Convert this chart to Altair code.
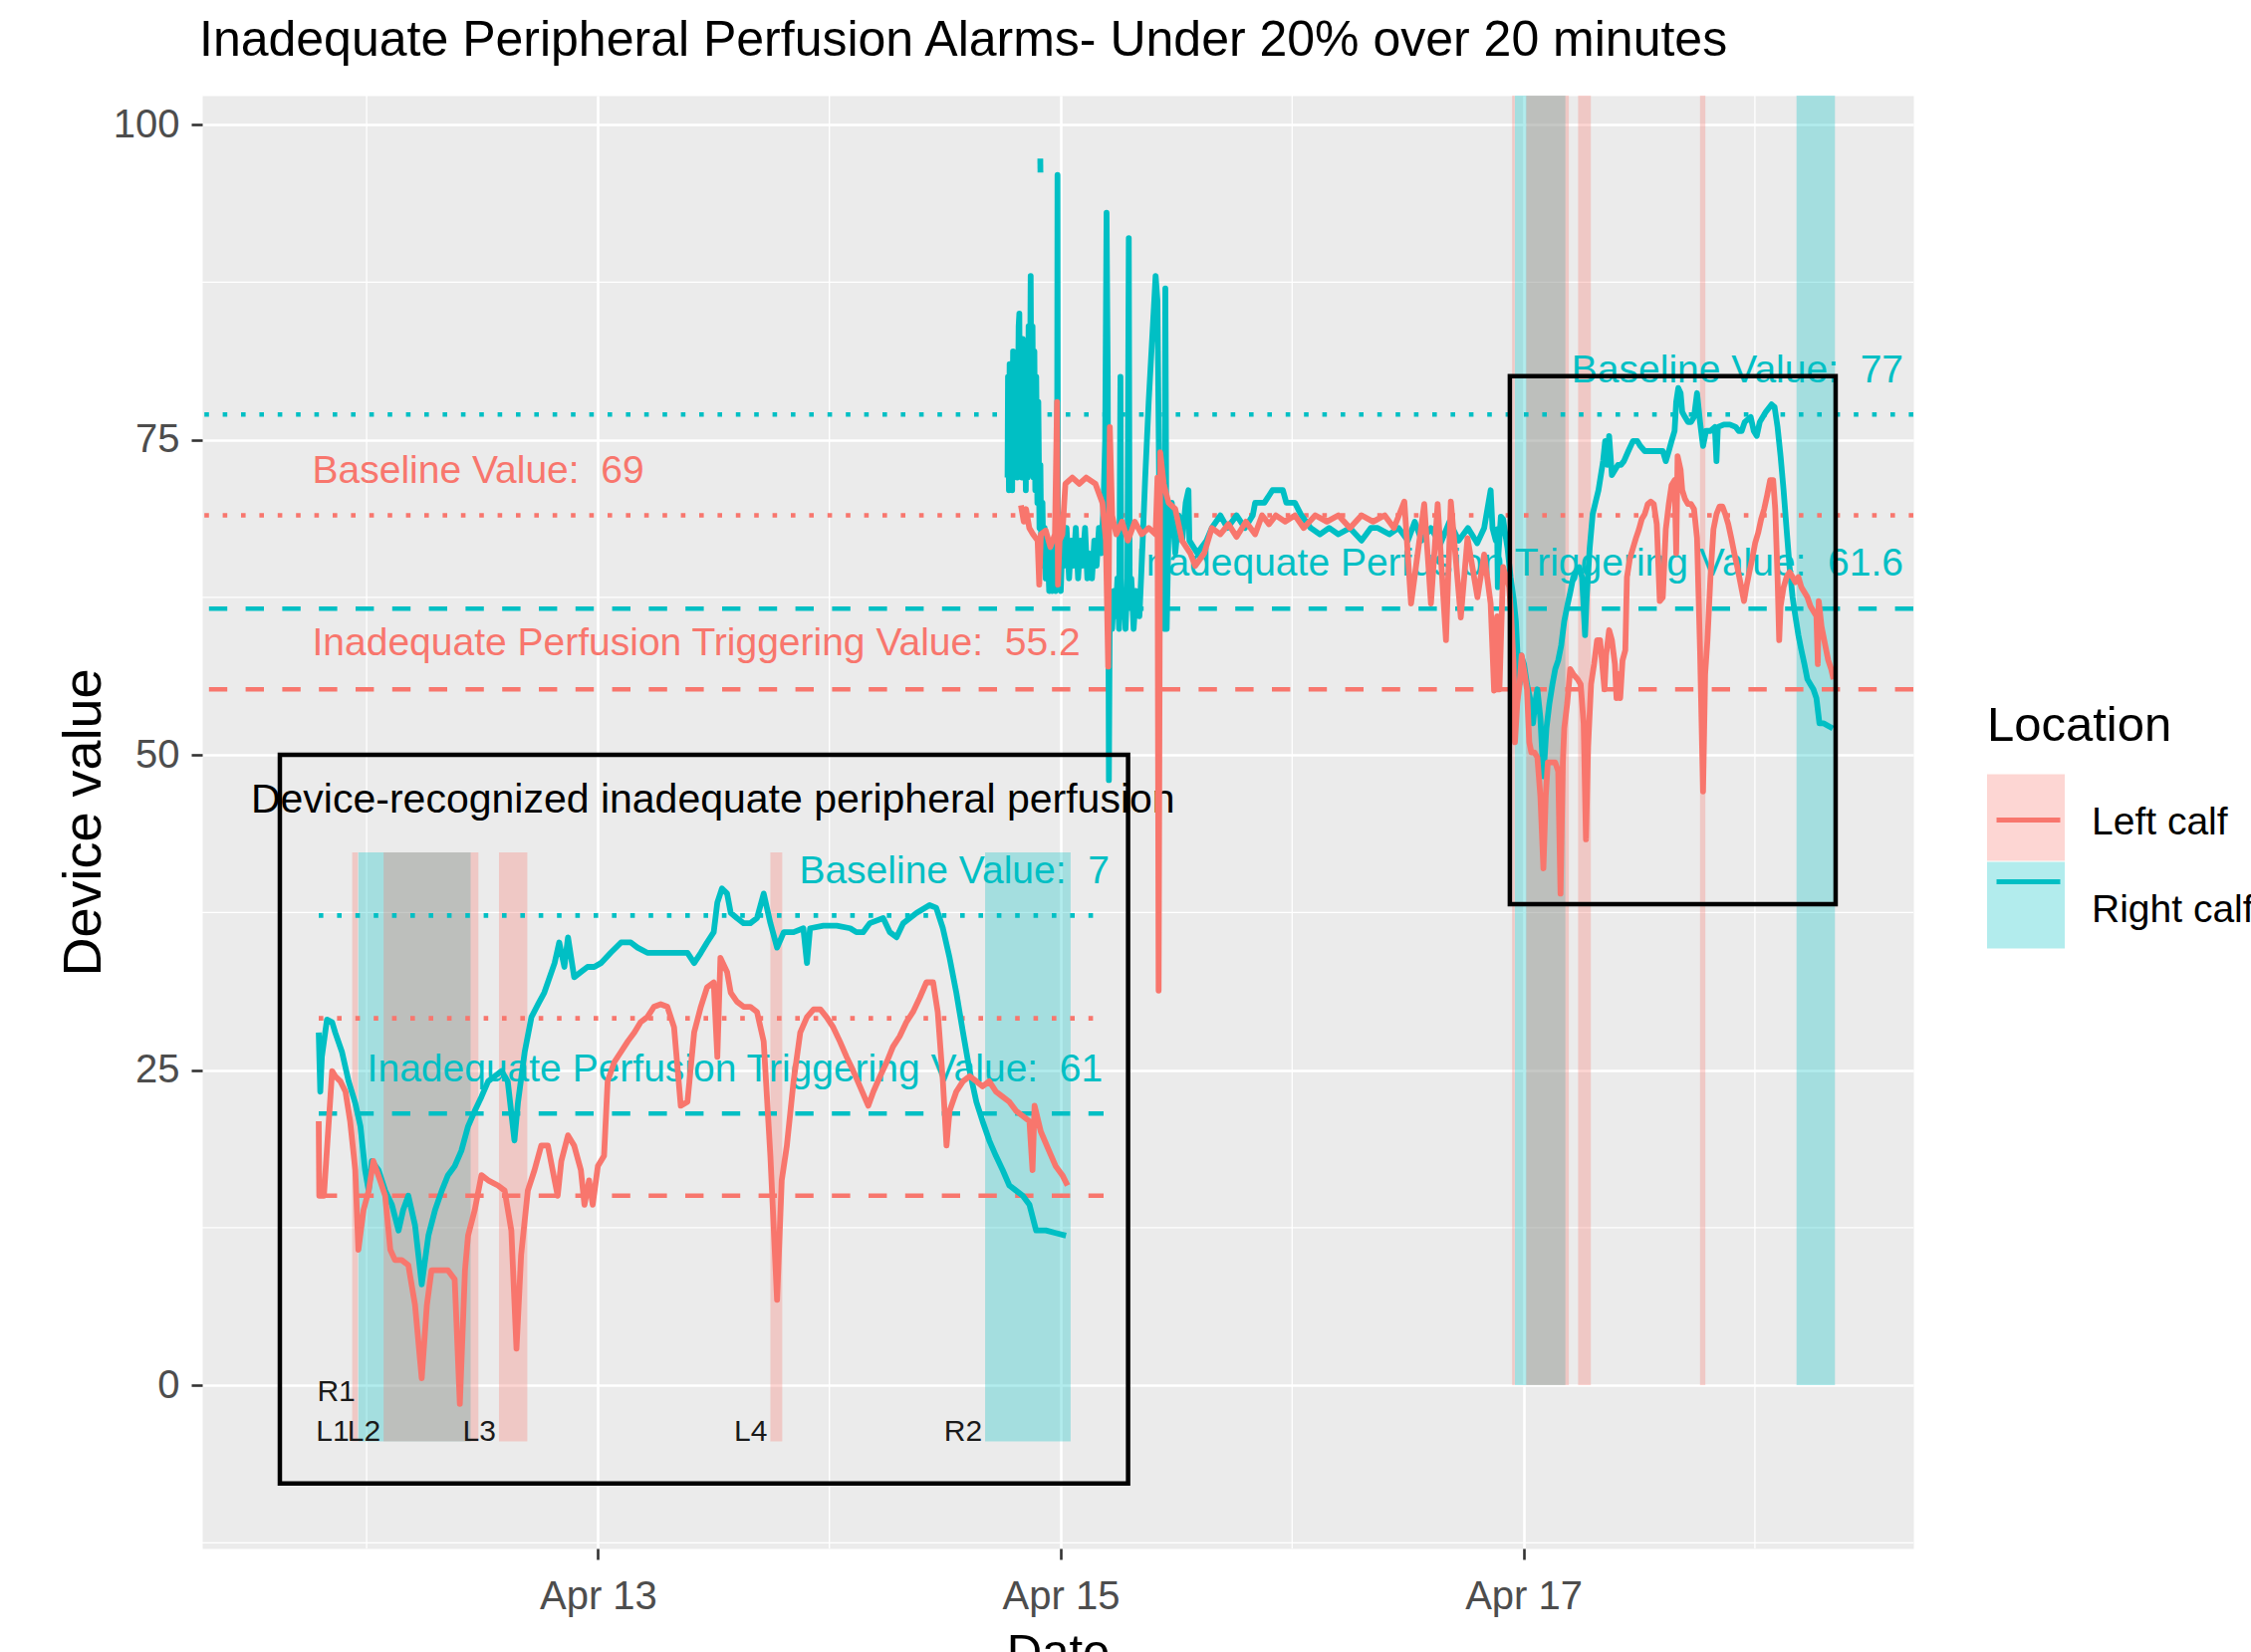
import altair as alt
import pandas as pd

FONT = "Liberation Sans"
LOCATIONS = ["Left calf", "Right calf"]
LOC_COLORS = ["#F8766D", "#00BFC4"]

# ---- series (time in fractional April days, value = device value) ----
right_days = [
    14.770, 14.772, 14.776, 14.779, 14.783, 14.786, 14.790, 14.794, 14.797, 14.801,
    14.805, 14.809, 14.812, 14.818, 14.821, 14.824, 14.828, 14.832, 14.836, 14.840,
    14.845, 14.849, 14.853, 14.857, 14.861, 14.866, 14.870, 14.874, 14.878, 14.882,
    14.886, 14.890, 14.894, 14.899, 14.903, 14.908, 14.912, 14.916, 14.921, 14.925,
    14.930, 14.935, 14.942, 14.950, 14.957, 14.964, 14.971, 14.978, 14.984, 14.986,
    14.988, 14.995, 15.000, 15.007, 15.015, 15.025, 15.036, 15.045, 15.055, 15.065,
    15.075, 15.085, 15.093, 15.105, 15.115, 15.122, 15.135, 15.145, 15.155, 15.165,
    15.175, 15.185, 15.192, 15.198, 15.203, 15.208, 15.212, 15.222, 15.230, 15.237,
    15.245, 15.252, 15.258, 15.262, 15.270, 15.280, 15.288, 15.294, 15.298, 15.305,
    15.315, 15.325, 15.340, 15.352, 15.365, 15.380, 15.395, 15.410, 15.418, 15.425,
    15.432, 15.440, 15.448, 15.452, 15.458, 15.466, 15.480, 15.495, 15.510, 15.525,
    15.540, 15.552, 15.556, 15.590, 15.630, 15.653, 15.690, 15.720, 15.760, 15.796,
    15.830, 15.840, 15.880, 15.915, 15.960, 15.975, 16.012, 16.040, 16.080, 16.120,
    16.160, 16.200, 16.250, 16.300, 16.340, 16.370, 16.420, 16.460, 16.500, 16.530,
    16.560, 16.600, 16.640, 16.680, 16.720, 16.760, 16.800, 16.830, 16.858, 16.866,
    16.880,
    16.886, 16.889, 16.892, 16.902, 16.912, 16.918, 16.931, 16.944, 16.957, 16.967,
    16.976, 16.983, 16.989, 17.002, 17.015, 17.028, 17.041, 17.050, 17.060, 17.073,
    17.086, 17.099, 17.112, 17.125, 17.137, 17.150, 17.163, 17.176, 17.189, 17.202,
    17.215, 17.228, 17.241, 17.253, 17.266, 17.273, 17.286, 17.299, 17.312, 17.324,
    17.344, 17.353, 17.363, 17.370, 17.382, 17.395, 17.408, 17.421, 17.434, 17.453,
    17.473, 17.492, 17.505, 17.524, 17.563, 17.602, 17.615, 17.628, 17.640, 17.653,
    17.660, 17.669, 17.679, 17.686, 17.698, 17.711, 17.724, 17.737, 17.750, 17.763,
    17.776, 17.789, 17.808, 17.827, 17.834, 17.840, 17.866, 17.892, 17.918, 17.930,
    17.943, 17.956, 17.982, 17.995, 18.008, 18.021, 18.047, 18.072, 18.085, 18.098,
    18.111, 18.124, 18.137, 18.150, 18.163, 18.175, 18.188, 18.201, 18.214, 18.227,
    18.240, 18.253, 18.266, 18.279, 18.298, 18.317, 18.337,
]
right_vals = [
    72, 80, 71, 81, 72, 79, 71, 82, 72, 80,
    73, 81, 72, 84, 85, 73, 81, 72, 83, 73,
    82, 71, 82, 72, 84, 76, 88, 73, 84, 72,
    82, 71, 80, 70, 78, 68, 73, 66, 70, 65,
    68, 64, 67, 63, 66, 63, 67, 63, 68, 96,
    64, 66, 63, 67, 65, 68, 64, 67, 65, 68,
    64, 67, 65, 68, 64, 66, 64, 67, 65, 68,
    66, 70, 75, 93, 80, 48, 62, 60, 63, 61,
    64, 60, 80, 61, 63, 60, 64, 91, 62, 64,
    60, 63, 61, 66, 72, 78, 83, 88, 86, 72,
    62, 66, 60, 87, 60, 68, 70, 66, 69, 67,
    70, 71, 67, 66, 67, 68, 69, 68, 69, 68,
    69, 70, 70, 71, 71, 70, 70, 69, 68, 67.5,
    68, 67.5, 68, 67, 68, 68, 67.5, 68, 67, 68.5,
    67, 68, 66.7, 68.5, 67, 68, 66.8, 68, 71, 68,
    67,
    67.9, 63.3, 66.0, 68.9, 68.7, 67.9, 66.4, 64.1, 62.4, 60.6,
    57.2, 55.6, 57.9, 57.2, 55.6, 54.5, 52.5, 54.1, 55.2, 52.9,
    48.3, 52.1, 54.1, 55.6, 56.8, 57.5, 58.7, 60.6, 61.8, 62.9,
    64.1, 64.5, 64.9, 64.1, 59.5, 62.5, 66.4, 69.1, 70.1, 71.0,
    73.3, 74.9, 73.0, 75.3, 72.2, 72.6, 73.0, 73.0, 73.3, 74.1,
    74.9, 74.9, 74.5, 74.1, 74.1, 74.1, 73.3, 74.1, 74.9, 75.7,
    78.0, 79.1, 78.7, 77.2, 76.8, 76.4, 76.4, 76.8, 78.7, 76.4,
    74.5, 75.7, 75.7, 76.0, 73.3, 76.0, 76.2, 76.2, 76.0, 75.7,
    75.7, 76.4, 76.8, 75.7, 75.3, 76.4, 77.2, 77.8, 77.6, 76.0,
    73.7, 71.0, 67.9, 64.9, 62.5, 61.0, 59.5, 58.3, 57.2, 56.0,
    55.6, 55.2, 54.5, 52.5, 52.5, 52.3, 52.1,
]
right_dot_days = [14.9115, 14.9122]
right_dot_vals = [97.3, 96.2]

left_days = [
    14.828, 14.840, 14.850, 14.864, 14.880, 14.900, 14.907, 14.914, 14.935, 14.955,
    14.975, 14.984, 14.988, 14.995, 15.007, 15.020, 15.050, 15.080, 15.110, 15.150,
    15.180, 15.195, 15.205, 15.212, 15.222, 15.240, 15.265, 15.290, 15.320, 15.350,
    15.380, 15.410, 15.418, 15.423, 15.430, 15.445, 15.466, 15.495, 15.524, 15.560,
    15.581, 15.620, 15.653, 15.690, 15.725, 15.760, 15.800, 15.840, 15.870, 15.900,
    15.930, 15.970, 16.012, 16.050, 16.100, 16.150, 16.200, 16.250, 16.300, 16.350,
    16.400, 16.440, 16.485, 16.514, 16.571, 16.600, 16.629, 16.665, 16.686, 16.729,
    16.758, 16.801, 16.830, 16.858, 16.873, 16.880,
    16.886, 16.887, 16.896, 16.912, 16.918, 16.928, 16.938, 16.947, 16.957, 16.963,
    16.973, 16.983, 16.992, 17.005, 17.015, 17.025, 17.034, 17.047, 17.060, 17.073,
    17.086, 17.096, 17.105, 17.118, 17.137, 17.150, 17.160, 17.170, 17.176, 17.189,
    17.202, 17.215, 17.234, 17.247, 17.260, 17.270, 17.279, 17.292, 17.305, 17.318,
    17.331, 17.344, 17.350, 17.357, 17.370, 17.382, 17.395, 17.402, 17.411, 17.418,
    17.428, 17.440, 17.447, 17.460, 17.473, 17.486, 17.499, 17.511, 17.524, 17.537,
    17.550, 17.563, 17.576, 17.589, 17.602, 17.615, 17.628, 17.640, 17.653, 17.660,
    17.666, 17.679, 17.686, 17.698, 17.711, 17.724, 17.737, 17.750, 17.763, 17.776,
    17.785, 17.795, 17.808, 17.821, 17.834, 17.847, 17.860, 17.872, 17.885, 17.898,
    17.911, 17.924, 17.937, 17.953, 17.963, 17.976, 17.989, 18.001, 18.014, 18.027,
    18.040, 18.053, 18.066, 18.079, 18.088, 18.098, 18.105, 18.111, 18.124, 18.137,
    18.150, 18.163, 18.175, 18.188, 18.201, 18.214, 18.227, 18.240, 18.253, 18.266,
    18.272, 18.276, 18.288, 18.304, 18.317, 18.330, 18.340,
]
left_vals = [
    69.8, 68.5, 69.5, 68.0, 67.5, 67.0, 63.5, 67.5, 67.8, 66.5,
    67.5, 78.0, 63.5, 67.0, 67.5, 71.5, 72.0, 71.5, 72.0, 71.5,
    70.0, 67.0, 57.0, 76.0, 69.0, 67.5, 68.5, 67.0, 68.5, 67.5,
    68.0, 67.5, 72.0, 31.3, 74.0, 71.5, 70.0, 69.5, 67.0, 66.0,
    65.0, 66.0, 68.0, 67.5, 68.3, 67.3, 68.5, 67.5, 69.0, 68.3,
    69.0, 68.5, 69.0, 68.0, 69.0, 68.5, 69.0, 68.0, 69.0, 68.5,
    69.0, 68.0, 70.1, 62.0, 69.9, 62.0, 69.9, 59.1, 70.1, 60.9,
    67.2, 62.5, 65.9, 62.0, 55.1, 60.0,
    61.0, 55.2, 55.2, 64.9, 64.5, 64.1, 63.3, 61.0, 57.2, 51.0,
    54.1, 55.6, 57.9, 56.4, 55.2, 51.0, 50.2, 50.2, 49.8, 46.7,
    41.0, 46.7, 49.4, 49.4, 49.4, 48.7, 39.0, 49.4, 52.1, 54.1,
    56.8, 56.4, 56.0, 55.6, 52.5, 43.3, 50.6, 55.6, 57.2, 59.1,
    59.1, 56.4, 55.2, 57.9, 59.9, 59.1, 57.2, 54.5, 56.4, 54.5,
    57.5, 58.3, 64.1, 65.6, 66.4, 67.2, 67.9, 68.7, 69.1, 69.9,
    70.1, 69.9, 68.3, 62.2, 62.5, 67.9, 69.9, 71.4, 71.8, 66.0,
    73.7, 72.6, 71.0, 70.3, 69.9, 69.9, 69.5, 67.2, 58.3, 47.1,
    56.4, 59.1, 64.1, 67.9, 69.1, 69.7, 69.7, 69.1, 68.3, 67.2,
    66.0, 64.9, 63.7, 62.2, 63.3, 64.5, 65.6, 66.8, 67.6, 68.7,
    69.5, 70.6, 71.8, 71.8, 69.5, 64.1, 59.1, 61.8, 63.3, 64.1,
    64.5, 64.1, 63.7, 64.1, 63.3, 62.9, 62.5, 61.8, 61.4, 61.0,
    57.2, 62.2, 60.2, 58.7, 57.5, 56.8, 56.0,
]

# ---- alarm bands ----
band_names = ["L1", "R1", "L2", "L3", "L4", "R2"]
band_locs = ["Left calf", "Right calf", "Left calf", "Left calf", "Left calf", "Right calf"]
band_starts = [16.951, 16.963, 17.012, 17.236, 17.763, 18.180]
band_ends = [16.962, 17.181, 17.196, 17.291, 17.786, 18.346]
band_label_vals = [36.8, 39.9, 36.8, 36.8, 36.8, 36.8]

# ---- reference values ----
ref_locs = ["Right calf", "Left calf", "Right calf", "Left calf"]
ref_kinds = ["Baseline", "Baseline", "Triggering", "Triggering"]
ref_vals = [77, 69, 61.6, 55.2]

NB = "\u00a0"
left_note_texts = ["Baseline Value: " + NB + "69",
                   "Inadequate Perfusion Triggering Value: " + NB + "55.2"]
left_note_day = 11.765
left_note_vals = [72.5, 58.85]
right_note_texts = ["Baseline Value: " + NB + "77",
                    "Inadequate Perfusion Triggering Value: " + NB + "61.6"]
right_note_day = 18.642
right_note_vals = [80.5, 65.2]
inset_note_texts = ["Baseline Value: " + NB + "7",
                    "Inadequate Perfusion Triggering Value: " + NB + "61"]
inset_note_days = [17.819, 16.980]
inset_note_vals = [80.46, 65.06]

caption_text = "Device-recognized inadequate peripheral perfusion"
caption_day = 11.50
caption_val = 46.4

box_day0 = [11.625, 16.941]
box_day1 = [15.291, 18.349]
box_v0 = [-7.8, 38.15]
box_v1 = [50.0, 80.05]

x_major_days = [13, 15, 17]
x_minor_days = [12, 14, 16, 18]
y_major = [0, 25, 50, 75, 100]
y_minor = [-12.5, 12.5, 37.5, 62.5, 87.5]

X_DAYS = (11.2893, 18.6849)
Y_LIM = (-12.95, 102.3)
INSET_DAYS = (16.886, 18.410)
INSET_LIM = (36.1, 81.9)

BASE = pd.Timestamp("2019-04-01")


def to_time(day):
    return (BASE + pd.Timedelta(days=day - 1)).round("s")


def to_dt(day):
    t = to_time(day)
    return alt.DateTime(year=t.year, month=t.month, date=t.day,
                        hours=t.hour, minutes=t.minute, seconds=t.second)


# ---- tables ----
right_df = pd.concat([
    pd.DataFrame({"day": right_days, "value": right_vals, "seg": 0}),
    pd.DataFrame({"day": right_dot_days, "value": right_dot_vals, "seg": 1}),
])
right_df["loc"] = "Right calf"
left_df = pd.DataFrame({"day": left_days, "value": left_vals, "seg": 0})
left_df["loc"] = "Left calf"
for df in (right_df, left_df):
    df["time"] = [to_time(d) for d in df["day"]]
right_in = right_df[right_df["day"] >= INSET_DAYS[0]]
left_in = left_df[left_df["day"] >= INSET_DAYS[0]]

bands_df = pd.DataFrame({
    "name": band_names, "loc": band_locs,
    "start": [to_time(d) for d in band_starts],
    "end": [to_time(d) for d in band_ends],
    "label_v": band_label_vals,
})
bands_df["lo"] = 0
bands_df["hi"] = Y_LIM[1]
bands_df["in_lo"] = INSET_LIM[0]
bands_df["in_hi"] = INSET_LIM[1]

refs_df = pd.DataFrame({"loc": ref_locs, "kind": ref_kinds, "value": ref_vals})
refs_df["in_t0"] = to_time(INSET_DAYS[0])
refs_df["in_t1"] = to_time(INSET_DAYS[1])

left_notes = pd.DataFrame({"text": left_note_texts, "value": left_note_vals,
                           "loc": "Left calf", "time": to_time(left_note_day)})
right_notes = pd.DataFrame({"text": right_note_texts, "value": right_note_vals,
                            "loc": "Right calf", "time": to_time(right_note_day)})
inset_notes = pd.DataFrame({"text": inset_note_texts, "value": inset_note_vals,
                            "loc": "Right calf",
                            "time": [to_time(d) for d in inset_note_days]})
caption_df = pd.DataFrame({"text": [caption_text], "value": [caption_val],
                           "time": [to_time(caption_day)]})
box_df = pd.DataFrame({"t0": [to_time(d) for d in box_day0],
                       "t1": [to_time(d) for d in box_day1],
                       "v0": box_v0, "v1": box_v1})
minor_x_df = pd.DataFrame({"time": [to_time(d) for d in x_minor_days]})
minor_y_df = pd.DataFrame({"value": y_minor})

# ---- scales / guides ----
x_main = alt.Scale(domain=[to_dt(X_DAYS[0]), to_dt(X_DAYS[1])], nice=False)
y_main = alt.Scale(domain=list(Y_LIM), nice=False, zero=False)
x_in = alt.Scale(domain=[to_dt(INSET_DAYS[0]), to_dt(INSET_DAYS[1])],
                 range=[117, 905], nice=False)
y_in = alt.Scale(domain=list(INSET_LIM), range=[1351.4, 760.1], nice=False, zero=False)
fill_scale = alt.Scale(domain=LOCATIONS, range=LOC_COLORS)
# stroke domain comes from the data (sorted: Left calf, Right calf) so that the
# line legend stays separate from the band legend
stroke_scale = alt.Scale(range=LOC_COLORS)
dash_scale = alt.Scale(domain=["Baseline", "Triggering"], range=[[4.6, 13.8], [18.4, 18.4]])

x_axis = alt.Axis(values=[to_dt(d) for d in x_major_days], format="%b %d",
                  title="Date", titleFont=FONT, titleFontSize=49, titleFontWeight="normal",
                  titleColor="black", titleY=119, titleBaseline="alphabetic",
                  labelFont=FONT, labelFontSize=40, labelColor="#4D4D4D", labelPadding=17,
                  labelFlush=False, tickSize=11, tickWidth=2.6, tickColor="#333333",
                  domain=False, grid=True, gridColor="white", gridWidth=2.6)
y_axis = alt.Axis(values=y_major, title="Device value", titleFont=FONT, titleFontSize=54,
                  titleFontWeight="normal", titleColor="black", titleAngle=270,
                  titleX=-103, titleY=729.5, titleBaseline="alphabetic", titleAlign="center",
                  labelFont=FONT, labelFontSize=40, labelColor="#4D4D4D", labelPadding=12,
                  tickSize=11, tickWidth=2.6, tickColor="#333333",
                  domain=False, grid=True, gridColor="white", gridWidth=2.6)

legend_base = dict(title="Location", orient="none", direction="vertical",
                   legendX=1792, legendY=609, padding=0,
                   titleFont=FONT, titleFontSize=49, titleFontWeight="normal",
                   titleColor="black", titlePadding=33, titleLimit=600,
                   labelFont=FONT, labelFontSize=39, labelColor="black",
                   labelLimit=600, labelOffset=27, symbolSize=6084, rowPadding=0)
# key paths are drawn slightly above the entry centre so the labels sit a bit lower
fill_legend = alt.Legend(symbolType="M-1,-1.243H1V0.987H-1Z", symbolOpacity=0.3,
                         symbolStrokeWidth=0, **legend_base)
stroke_legend = alt.Legend(symbolType="M-0.82,-0.128H0.82", symbolStrokeWidth=5,
                           symbolOpacity=1, titleOpacity=0, labelExpr="''",
                           **legend_base)


def X(f):
    return alt.X(f, type="temporal", scale=x_main, axis=x_axis)


def Y(f):
    return alt.Y(f, type="quantitative", scale=y_main, axis=y_axis)


def XI(f):
    return alt.X(f, type="temporal", scale=x_in, axis=None)


def YI(f):
    return alt.Y(f, type="quantitative", scale=y_in, axis=None)


fill_enc = alt.Fill("loc:N", scale=fill_scale, legend=fill_legend)
stroke_enc = alt.Stroke("loc:N", scale=stroke_scale, legend=stroke_legend)
dash_enc = alt.StrokeDash("kind:N", scale=dash_scale, legend=None)

LW = 5.8

# ---- main panel ----
minor_v = alt.Chart(minor_x_df).mark_rule(color="white", strokeWidth=1.3).encode(x=X("time"))
minor_h = alt.Chart(minor_y_df).mark_rule(color="white", strokeWidth=1.3).encode(y=Y("value"))
bands_main = alt.Chart(bands_df).mark_rect(opacity=0.3).encode(
    x=X("start"), x2=alt.X2("end"), y=Y("lo"), y2=alt.Y2("hi"), fill=fill_enc)
refs_main = alt.Chart(refs_df).mark_rule(strokeWidth=4.6).encode(
    y=Y("value"), stroke=stroke_enc, strokeDash=dash_enc)
notes_left = alt.Chart(left_notes).mark_text(align="left", baseline="middle", font=FONT,
                                             fontSize=39).encode(
    x=X("time"), y=Y("value"), text="text:N", fill=fill_enc)
notes_right = alt.Chart(right_notes).mark_text(align="right", baseline="middle", font=FONT,
                                               fontSize=39).encode(
    x=X("time"), y=Y("value"), text="text:N", fill=fill_enc)
caption = alt.Chart(caption_df).mark_text(align="left", baseline="middle", font=FONT,
                                          fontSize=41, color="black").encode(
    x=X("time"), y=Y("value"), text="text:N")
line_right = alt.Chart(right_df).mark_line(strokeWidth=LW, strokeJoin="round").encode(
    x=X("time"), y=Y("value"), stroke=stroke_enc, detail="seg:N")
line_left = alt.Chart(left_df).mark_line(strokeWidth=LW, strokeJoin="round").encode(
    x=X("time"), y=Y("value"), stroke=stroke_enc, detail="seg:N")
boxes = alt.Chart(box_df).mark_rect(fill="transparent", stroke="black", strokeWidth=4.5).encode(
    x=X("t0"), x2=alt.X2("t1"), y=Y("v0"), y2=alt.Y2("v1"))

main = alt.layer(minor_v, minor_h, bands_main, refs_main, notes_left, notes_right,
                 caption, line_right, line_left, boxes)

# ---- inset (zoom of the right-hand box) ----
bands_in = alt.Chart(bands_df).mark_rect(opacity=0.3).encode(
    x=XI("start"), x2=alt.X2("end"), y=YI("in_lo"), y2=alt.Y2("in_hi"), fill=fill_enc)
refs_in = alt.Chart(refs_df).mark_rule(strokeWidth=4.6).encode(
    x=XI("in_t0"), x2=alt.X2("in_t1"), y=YI("value"), stroke=stroke_enc, strokeDash=dash_enc)
notes_in = alt.Chart(inset_notes).mark_text(align="left", baseline="middle", font=FONT,
                                            fontSize=39).encode(
    x=XI("time"), y=YI("value"), text="text:N", fill=fill_enc)
line_right_in = alt.Chart(right_in).mark_line(strokeWidth=LW, strokeJoin="round").encode(
    x=XI("time"), y=YI("value"), stroke=stroke_enc, detail="seg:N")
line_left_in = alt.Chart(left_in).mark_line(strokeWidth=LW, strokeJoin="round").encode(
    x=XI("time"), y=YI("value"), stroke=stroke_enc, detail="seg:N")
labels_in = alt.Chart(bands_df).mark_text(align="right", baseline="middle", font=FONT,
                                          fontSize=30, color="#1A1A1A", dx=-3).encode(
    x=XI("start"), y=YI("label_v"), text="name:N")

inset = alt.layer(bands_in, refs_in, notes_in, line_right_in, line_left_in, labels_in)

chart = alt.layer(main, inset).resolve_scale(
    x="independent", y="independent"
).properties(
    width=1718, height=1459,
    title=alt.TitleParams(
        text="Inadequate Peripheral Perfusion Alarms- Under 20% over 20 minutes",
        anchor="start", frame="group", font=FONT, fontSize=50, fontWeight="normal",
        color="black", baseline="alphabetic", offset=39, dx=-3, dy=50),
    autosize=alt.AutoSizeParams(type="none"),
    padding={"left": 203, "top": 96, "right": 339, "bottom": 104},
).configure_view(fill="#EBEBEB", stroke="transparent")

chart.save("out.html", embed_options={"renderer": "svg", "actions": False})
